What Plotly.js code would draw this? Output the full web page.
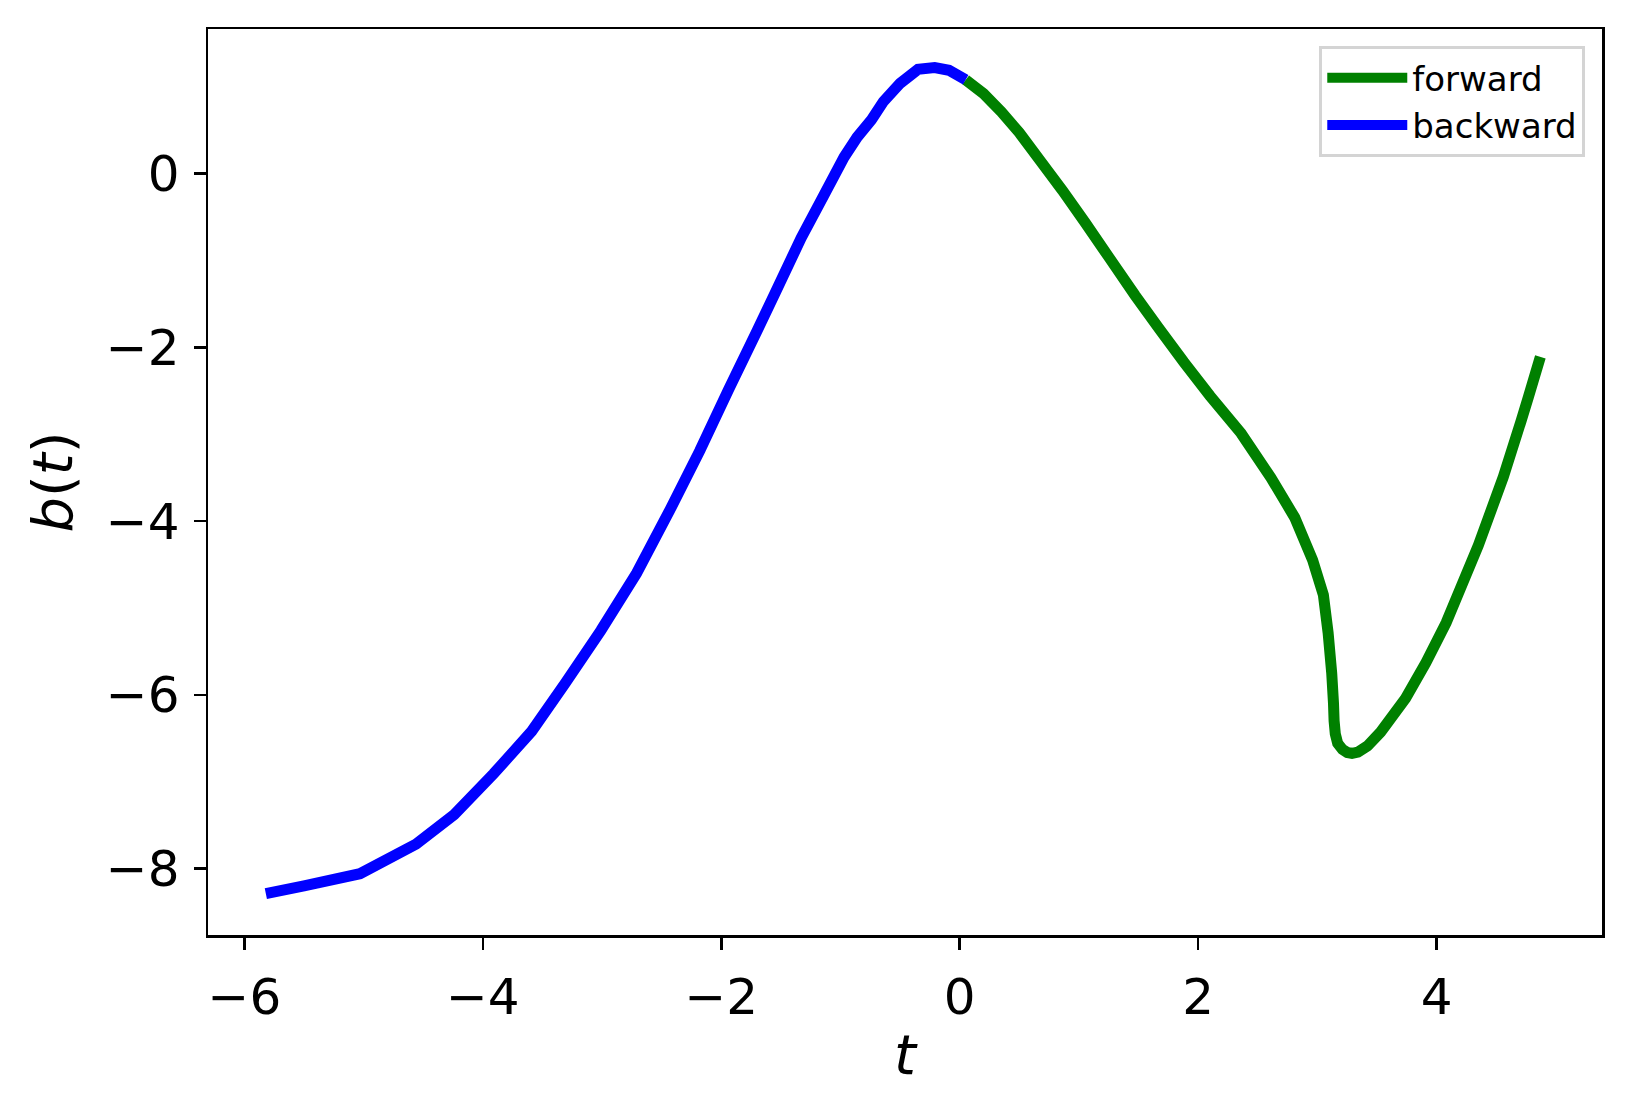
<!DOCTYPE html>
<html>
<head>
<meta charset="utf-8">
<script src="https://cdn.plot.ly/plotly-3.0.1.min.js"></script>
<style>
  html, body { margin: 0; padding: 0; background: #fff; }
  #chart { width: 1631px; height: 1116px; }
</style>
</head>
<body>
<div id="chart"></div>
<script>
// forward solution (t >= 0)
const tForward = [0.05, 0.20, 0.35, 0.50, 0.68, 0.86, 1.05, 1.26, 1.47, 1.67, 1.88, 2.10, 2.36, 2.61, 2.81, 2.96, 3.05, 3.09, 3.12, 3.135, 3.14, 3.15, 3.17, 3.21, 3.25, 3.29, 3.34, 3.42, 3.53, 3.74, 3.91, 4.08, 4.35, 4.56, 4.71, 4.77, 4.87];
const bForward = [1.08, 0.92, 0.71, 0.47, 0.14, -0.19, -0.56, -0.98, -1.40, -1.78, -2.17, -2.56, -2.99, -3.50, -3.96, -4.45, -4.85, -5.29, -5.75, -6.10, -6.30, -6.45, -6.56, -6.63, -6.665, -6.675, -6.66, -6.59, -6.43, -6.04, -5.63, -5.17, -4.28, -3.49, -2.84, -2.57, -2.11];

// backward solution (t <= 0)
const tBackward = [-5.82, -5.50, -5.03, -4.56, -4.24, -3.91, -3.59, -3.31, -3.01, -2.71, -2.43, -2.18, -1.94, -1.70, -1.55, -1.33, -1.14, -0.97, -0.86, -0.74, -0.64, -0.50, -0.35, -0.21, -0.09, 0.05];
const bBackward = [-8.29, -8.20, -8.06, -7.72, -7.38, -6.91, -6.42, -5.87, -5.26, -4.60, -3.87, -3.19, -2.49, -1.81, -1.38, -0.74, -0.25, 0.19, 0.42, 0.62, 0.83, 1.04, 1.20, 1.22, 1.19, 1.08];

const seriesNames = ["forward", "backward"];
const xTicks = [-6, -4, -2, 0, 2, 4];
const yTicks = [-8, -6, -4, -2, 0];

const FONT = "DejaVu Sans, sans-serif";

const traces = [
  { x: tForward, y: bForward, mode: "lines", name: seriesNames[0],
    line: { color: "green", width: 11, shape: "linear", simplify: false } },
  { x: tBackward, y: bBackward, mode: "lines", name: seriesNames[1],
    line: { color: "blue", width: 11, shape: "linear", simplify: false } }
];

const axisCommon = {
  showgrid: false, zeroline: false,
  showline: true, linecolor: "black", linewidth: 2.5, mirror: true,
  ticks: "outside", ticklen: 12, tickwidth: 2.5, tickcolor: "black",
  tickfont: { family: FONT, size: 50, color: "black" }
};

const layout = {
  width: 1631, height: 1116,
  paper_bgcolor: "white", plot_bgcolor: "white",
  margin: { l: 208, r: 29, t: 29, b: 181 },
  showlegend: true,
  legend: {
    x: 0.988, xanchor: "right", y: 0.981, yanchor: "top",
    bgcolor: "white", bordercolor: "#d4d4d4", borderwidth: 3,
    font: { family: FONT, size: 34, color: "black" },
    itemwidth: 80
  },
  xaxis: Object.assign({}, axisCommon, {
    range: [-6.305, 5.387],
    tickvals: xTicks,
    ticktext: xTicks.map(v => v < 0 ? "\u2212" + Math.abs(v) : String(v)),
    ticklabelstandoff: 4,
    title: { text: "<i>t</i>", font: { family: FONT, size: 56, color: "black" }, standoff: 11 }
  }),
  yaxis: Object.assign({}, axisCommon, {
    range: [-8.766, 1.665],
    tickvals: yTicks,
    ticktext: yTicks.map(v => v < 0 ? "\u2212" + Math.abs(v) : String(v)),
    ticklabelstandoff: 4,
    title: { text: "<i>b</i>(<i>t</i>)", font: { family: FONT, size: 56, color: "black" }, standoff: 15 }
  })
};

Plotly.newPlot("chart", traces, layout, { staticPlot: true, displayModeBar: false });
</script>
</body>
</html>
